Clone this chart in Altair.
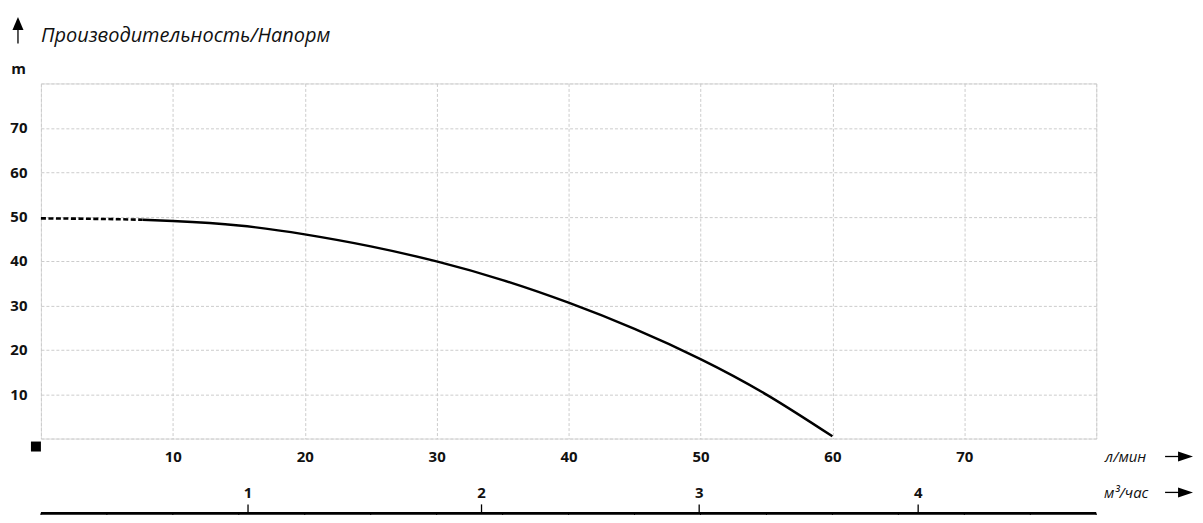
import altair as alt
import pandas as pd

# ---- data ----
flow_dashed = [0, 4, 7.7]
head_dashed = [49.6, 49.5, 49.3]
flow_solid = [7.7, 10, 15, 20, 25, 30, 35, 40, 45, 50, 55, 60]
head_solid = [49.3, 49.0, 48.0, 46.0, 43.3, 39.9, 35.7, 30.6, 24.7, 17.9, 9.9, 0.5]

grid_values = [0, 10, 20, 30, 40, 50, 60, 70, 80]
m3h_labels = ["1", "2", "3", "4"]
m3h_in_lpm = [15.7, 33.4, 49.9, 66.5]
minor_lpm = [0, 5, 10, 15, 20, 25, 30, 35, 40, 45, 50, 55, 60, 65, 70, 75, 80]

title_text = "Производительность/Напорм"
y_unit = "m"
x_unit = "л/мин"
x2_unit = "м³/час"

FONT = "Open Sans"
INK = "#111111"
GRID = "#cccccc"

curve = pd.DataFrame({
    "flow": flow_dashed + flow_solid,
    "head": head_dashed + head_solid,
    "seg": ["dash"] * len(flow_dashed) + ["solid"] * len(flow_solid),
})

hide_edges = "datum.value == 0 || datum.value == 80 ? '' : datum.label"

x_scale = alt.Scale(domain=[0, 80], nice=False, zero=False)
x_axis = alt.Axis(
    values=grid_values, labelExpr=hide_edges,
    title=x_unit, titleX=1087, titleY=18, titleAlign="center", titleBaseline="middle",
    titleFont=FONT, titleFontSize=15, titleFontWeight="normal", titleFontStyle="italic",
    titleColor=INK,
    labelFont=FONT, labelFontSize=15, labelFontWeight="bold", labelColor=INK,
    labelPadding=18, labelBaseline="middle", ticks=False, tickSize=0, domain=False,
    grid=True, gridColor=GRID, gridDash=[3, 2], gridWidth=1,
)


def X(field):
    return alt.X(field, type="quantitative", scale=x_scale, axis=x_axis)


y_enc = alt.Y(
    "head:Q",
    scale=alt.Scale(domain=[0, 80], nice=False, zero=False),
    axis=alt.Axis(
        values=grid_values, labelExpr=hide_edges,
        title=y_unit, titleAngle=0, titleX=-23, titleY=-15, titleAlign="center",
        titleBaseline="middle", titleFont=FONT, titleFontSize=15, titleFontWeight="bold",
        titleColor=INK,
        labelFont=FONT, labelFontSize=15, labelFontWeight="bold", labelColor=INK,
        labelPadding=14, ticks=False, tickSize=0, domain=False,
        grid=True, gridColor=GRID, gridDash=[3, 2], gridWidth=1,
    ),
)

base = alt.Chart(curve).encode(x=X("flow"), y=y_enc)
dashed = base.transform_filter(alt.datum.seg == "dash").mark_line(
    color="black", strokeWidth=2.6, strokeDash=[5, 2.5], interpolate="natural")
solid = base.transform_filter(alt.datum.seg == "solid").mark_line(
    color="black", strokeWidth=2.4, interpolate="natural")

one = pd.DataFrame({"k": [0]})

# second (m3/h) scale, drawn through the l/min x scale
m3h = pd.DataFrame({"flow": m3h_in_lpm, "lab": m3h_labels})
minor = pd.DataFrame({"flow": minor_lpm})
ends = pd.DataFrame({"flow": [0], "flow_end": [80]})

bottom_line = alt.Chart(ends).mark_rule(color="black", strokeWidth=2.6).encode(
    x=X("flow"), x2="flow_end", y=alt.value(431))
minor_ticks = alt.Chart(minor).mark_rule(color="black", strokeWidth=1).encode(
    x=X("flow"), y=alt.value(431), y2=alt.value(434))
m3h_ticks = alt.Chart(m3h).mark_rule(color="black", strokeWidth=1.3).encode(
    x=X("flow"), y=alt.value(422), y2=alt.value(431))
m3h_text = alt.Chart(m3h).mark_text(
    font=FONT, fontSize=15, fontWeight="bold", color=INK, baseline="middle", align="center"
).encode(x=X("flow"), y=alt.value(411), text="lab:N")

x2_title = alt.Chart(one).mark_text(
    font=FONT, fontSize=15, fontStyle="italic", color=INK, baseline="middle", align="center"
).encode(x=alt.value(1088), y=alt.value(411), text=alt.value(x2_unit))

title = alt.Chart(one).mark_text(
    font=FONT, fontSize=20, fontStyle="italic", color=INK, baseline="middle", align="left"
).encode(x=alt.value(0), y=alt.value(-48), text=alt.value(title_text))

# decorations: arrows and origin square
up_shaft = alt.Chart(one).mark_rule(color="black", strokeWidth=1.3).encode(
    x=alt.value(-23), y=alt.value(-40), y2=alt.value(-54))
up_head = alt.Chart(one).mark_point(
    shape="M0,-1L0.85,1L-0.85,1Z", filled=True, color="black", opacity=1, size=169
).encode(x=alt.value(-23), y=alt.value(-60))

arrow_rows = pd.DataFrame({"yy": [374, 410]})
right_shaft = alt.Chart(arrow_rows).mark_rule(color="black", strokeWidth=1.3).encode(
    x=alt.value(1127), x2=alt.value(1143), y=alt.Y("yy:Q", scale=None, axis=None))
right_head = alt.Chart(arrow_rows).mark_point(
    shape="M1,0L-1,-0.67L-1,0.67Z", filled=True, color="black", opacity=1, size=225
).encode(x=alt.value(1147.5), y=alt.Y("yy:Q", scale=None, axis=None))

square = alt.Chart(one).mark_point(
    shape="square", filled=True, color="black", opacity=1, size=100
).encode(x=alt.value(-5), y=alt.value(364))

chart = alt.layer(
    dashed, solid, bottom_line, minor_ticks, m3h_ticks, m3h_text, x2_title, title,
    up_shaft, up_head, right_shaft, right_head, square,
).properties(
    width=1058, height=356,
    autosize=alt.AutoSizeParams(type="none"),
    padding={"left": 33, "top": 75, "right": 99, "bottom": 76},
).configure_view(stroke=None).configure(background="white")

chart.save("out.html", embed_options={"renderer": "svg", "actions": False})
